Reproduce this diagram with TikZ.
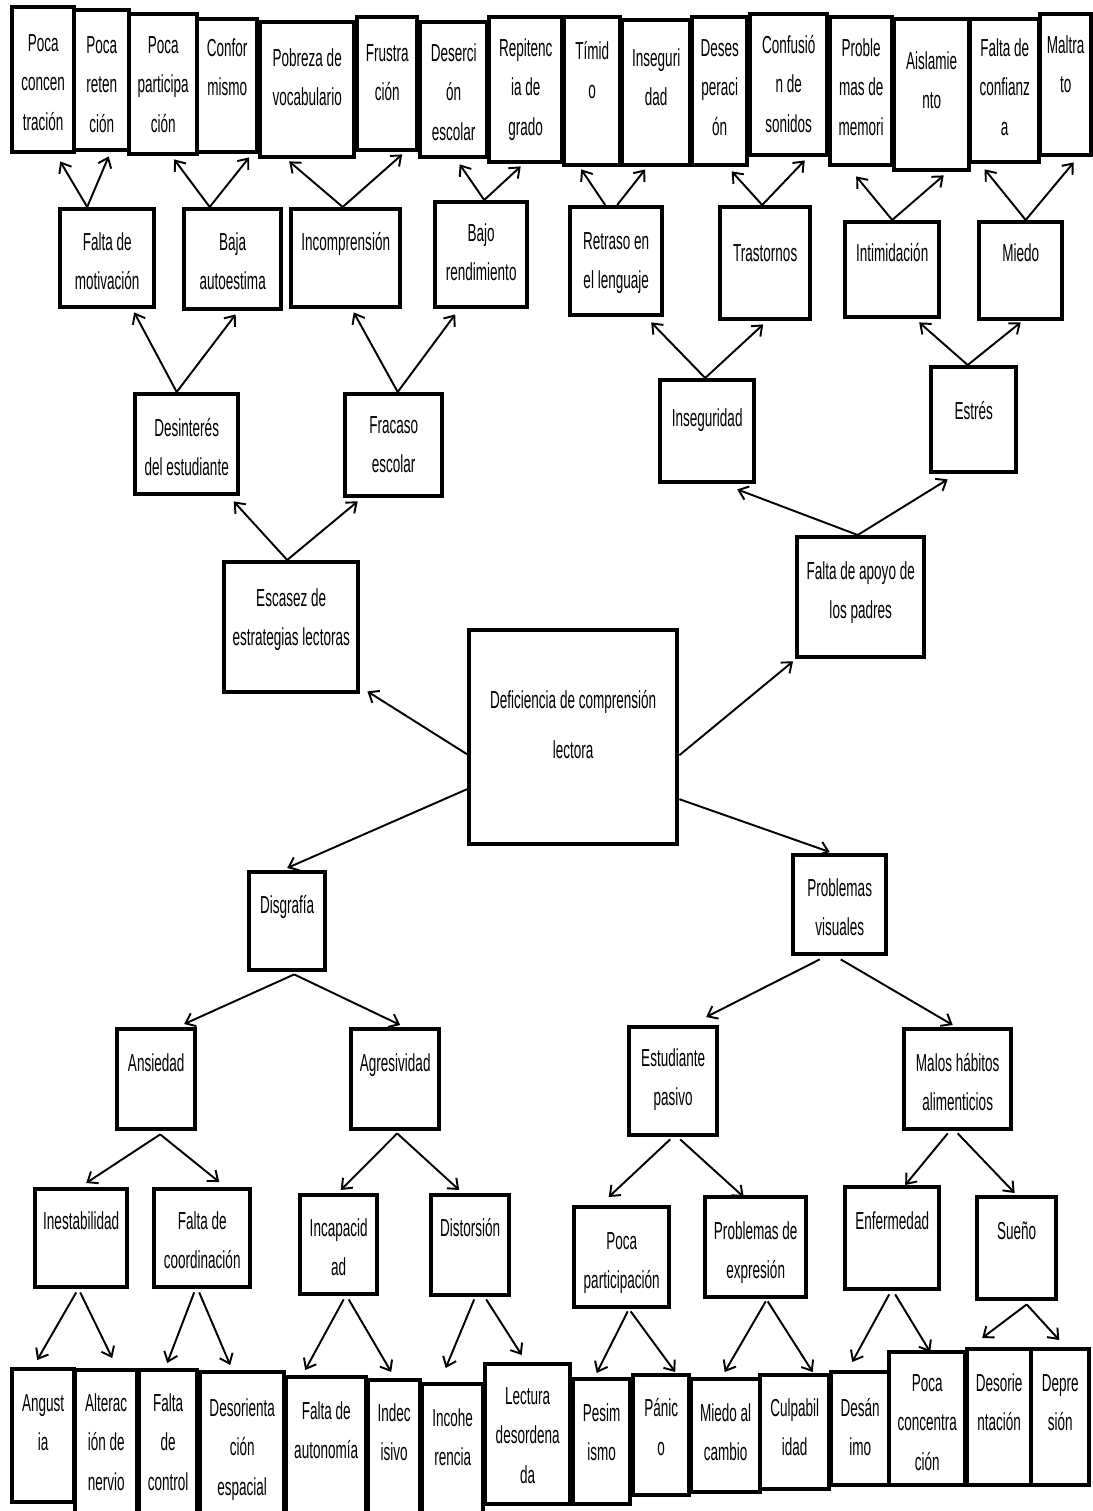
\documentclass[tikz,border=0pt]{standalone}
\usepackage{fontspec}
\setmainfont[FakeStretch=0.55]{Liberation Sans}
\usetikzlibrary{calc,arrows.meta}

\tikzset{
  box/.style={draw, line width=2.5pt, fill=white, inner sep=0pt, anchor=north west,
    align=flush center, font=\fontsize{14pt}{22.5pt}\selectfont},
  arr/.style={->, line width=1.1pt}
}

% box from (x1,y1) to (x2,y2), first baseline #1 below the top
\newcommand{\bx}[7][41]{%
  \pgfmathsetmacro{\bxw}{(#5-#3)*0.02}%
  \pgfmathsetmacro{\bxt}{#1*0.02}%
  \pgfmathsetmacro{\bxd}{(#6-#4-#1)*0.02}%
  \node[box, text width=\bxw cm, text height=\bxt cm, text depth=\bxd cm] (#2) at (#3,#4) {#7};%
}

\begin{document}
\begin{tikzpicture}[x=0.02cm, y=-0.02cm, >={Straight Barb[length=5pt,width=8pt]}]
    \useasboundingbox (0,0) rectangle (1092,1511);

    % Top row
    \bx[44]{pconc}{10}{5}{72}{150}{Poca\\concen\\tración}
    \bx[43]{pret}{72}{8}{127}{148}{Poca\\reten\\ción}
    \bx[39]{ppart}{127}{12}{195}{152}{Poca\\participa\\ción}
    \bx[37]{conform}{195}{17}{255}{150}{Confor\\mismo}
    \bx[44]{pobvoc}{258}{20}{352}{155}{Pobreza de\\vocabulario}
    \bx[44]{frust}{355}{15}{415}{148}{Frustra\\ción}
    \bx[39]{deser}{418}{20}{485}{155}{Deserci\\ón\\escolar}
    \bx[39]{repit}{487}{15}{560}{160}{Repitenc\\ia de\\grado}
    \bx[42]{timido}{562}{15}{618}{163}{Tímid\\o}
    \bx[46]{insegA}{620}{18}{688}{163}{Inseguri\\dad}
    \bx[39]{desesp}{690}{15}{745}{163}{Deses\\peraci\\ón}
    \bx[39]{confus}{748}{12}{825}{153}{Confusió\\n de\\sonidos}
    \bx[39]{probmem}{828}{15}{890}{163}{Proble\\mas de\\memori}
    \bx[50]{aislam}{892}{17}{967}{168}{Aislamie\\nto}
    \bx[37]{fconf}{968}{17}{1037}{160}{Falta de\\confianz\\a}
    \bx[39]{maltrato}{1038}{12}{1089}{153}{Maltra\\to}

    % Second row
    \bx{fmotiv}{58}{207}{152}{305}{Falta de\\motivación}
    \bx{bajaut}{182}{207}{279}{307}{Baja\\autoestima}
    \bx{incomp}{289}{207}{398}{305}{Incomprensión}
    \bx[39]{bajrend}{433}{200}{525}{305}{Bajo\\rendimiento}
    \bx[42]{retraso}{568}{205}{660}{313}{Retraso en\\el lenguaje}
    \bx[54]{trast}{718}{205}{808}{317}{Trastornos}
    \bx[39]{intimid}{843}{220}{937}{315}{Intimidación}
    \bx[39]{miedo}{977}{220}{1060}{317}{Miedo}

    % Third row
    \bx[42]{desint}{133}{392}{236}{492}{Desinterés\\del estudiante}
    \bx[39]{fracaso}{343}{392}{440}{494}{Fracaso\\escolar}
    \bx[46]{insegB}{658}{378}{752}{480}{Inseguridad}
    \bx[52]{estres}{929}{365}{1014}{470}{Estrés}

    % Causes next to the centre
    \bx[44]{escasez}{222}{560}{356}{690}{Escasez de\\estrategias lectoras}
    \bx[42]{fapoyo}{795}{535}{922}{655}{Falta de apoyo de\\los padres}
    \bx[78]{defic}{467}{628}{675}{842}{Deficiencia de comprensión\\[6pt]lectora}
    \bx{disgraf}{247}{870}{323}{968}{Disgrafía}
    \bx{probvis}{791}{853}{884}{952}{Problemas\\visuales}

    % Lower rows
    \bx[42]{ansied}{115}{1027}{193}{1127}{Ansiedad}
    \bx[42]{agresiv}{349}{1027}{437}{1127}{Agresividad}
    \bx[39]{estpas}{627}{1025}{715}{1133}{Estudiante\\pasivo}
    \bx[42]{malhab}{902}{1027}{1009}{1127}{Malos hábitos\\alimenticios}

    \bx[40]{inestab}{33}{1187}{125}{1285}{Inestabilidad}
    \bx[40]{fcoord}{152}{1187}{248}{1285}{Falta de\\coordinación}
    \bx[41]{incapac}{298}{1193}{375}{1292}{Incapacid\\ad}
    \bx[41]{distors}{429}{1193}{507}{1293}{Distorsión}
    \bx[42]{pocapart}{572}{1205}{667}{1305}{Poca\\participación}
    \bx[42]{probexp}{703}{1195}{804}{1295}{Problemas de\\expresión}
    \bx[42]{enferm}{843}{1185}{937}{1287}{Enfermedad}
    \bx[42]{sueno}{975}{1195}{1054}{1297}{Sueño}

    % Bottom row
    \bx[42]{angust}{10}{1367}{72}{1500}{Angust\\ia}
    \bx[41]{alterac}{73}{1368}{135}{1520}{Alterac\\ión de\\nervio}
    \bx[41]{fcontrol}{137}{1368}{195}{1520}{Falta\\de\\control}
    \bx[44]{desorEsp}{198}{1370}{282}{1520}{Desorienta\\ción\\espacial}
    \bx[42]{fautonom}{284}{1375}{364}{1520}{Falta de\\autonomía}
    \bx[41]{indecis}{366}{1378}{418}{1520}{Indec\\isivo}
    \bx[42]{incoher}{420}{1382}{481}{1520}{Incohe\\rencia}
    \bx[40]{lectdes}{483}{1362}{568}{1502}{Lectura\\desordena\\da}
    \bx[42]{pesim}{571}{1377}{628}{1502}{Pesim\\ismo}
    \bx[41]{panico}{631}{1373}{687}{1493}{Pánic\\o}
    \bx[42]{mcambio}{689}{1377}{758}{1490}{Miedo al\\cambio}
    \bx[41]{culpab}{758}{1373}{827}{1487}{Culpabil\\idad}
    \bx[44]{desanimo}{829}{1370}{887}{1483}{Desán\\imo}
    \bx[39]{pconcB}{887}{1350}{963}{1483}{Poca\\concentra\\ción}
    \bx[42]{desorient}{965}{1347}{1029}{1483}{Desorie\\ntación}
    \bx[42]{depres}{1029}{1347}{1087}{1483}{Depre\\sión}

    % Arrows up to the top row
    \draw[arr] ($(fmotiv.north)+(-20,0)$) -- ($(pconc.south)+(17,7)$);
    \draw[arr] ($(fmotiv.north)+(-20,0)$) -- ($(pret.south)+(7,4)$);
    \draw[arr] ($(bajaut.north)+(-23,0)$) -- ($(ppart.south)+(11,3)$);
    \draw[arr] ($(bajaut.north)+(-23,0)$) -- ($(conform.south)+(22,3)$);
    \draw[arr] ($(incomp.north)+(-3,0)$) -- ($(pobvoc.south)+(-18,2)$);
    \draw[arr] ($(incomp.north)+(-3,0)$) -- ($(frust.south)+(15,2)$);
    \draw[arr] ($(bajrend.north)+(3,0)$) -- ($(deser.south)+(6,5)$);
    \draw[arr] ($(bajrend.north)+(3,0)$) -- ($(repit.south)+(-5,2)$);
    \draw[arr] ($(retraso.north)+(-11,0)$) -- ($(timido.south)+(-11,2)$);
    \draw[arr] ($(retraso.north)+(1,0)$) -- ($(insegA.south)+(-11,2)$);
    \draw[arr] ($(trast.north)+(-3,0)$) -- ($(desesp.south)+(12,4)$);
    \draw[arr] ($(trast.north)+(-3,0)$) -- ($(confus.south)+(16,3)$);
    \draw[arr] (intimid.north) -- ($(probmem.south)+(-5,9)$);
    \draw[arr] (intimid.north) -- ($(aislam.south)+(12,3)$);
    \draw[arr] ($(miedo.north)+(5,0)$) -- ($(fconf.south)+(-20,5)$);
    \draw[arr] ($(miedo.north)+(5,0)$) -- ($(maltrato.south)+(8,5)$);

    % Arrows up to the second row
    \draw[arr] ($(desint.north)+(-10,0)$) -- ($(fmotiv.south)+(27,3)$);
    \draw[arr] ($(desint.north)+(-10,0)$) -- ($(bajaut.south)+(3,3)$);
    \draw[arr] ($(fracaso.north)+(4,0)$) -- ($(incomp.south)+(8,3)$);
    \draw[arr] ($(fracaso.north)+(4,0)$) -- ($(bajrend.south)+(-26,5)$);
    \draw[arr] ($(insegB.north)+(-2,0)$) -- ($(retraso.south)+(35,5)$);
    \draw[arr] ($(insegB.north)+(-2,0)$) -- ($(trast.south)+(-2,3)$);
    \draw[arr] ($(estres.north)+(-6,0)$) -- ($(intimid.south)+(27,3)$);
    \draw[arr] ($(estres.north)+(-6,0)$) -- ($(miedo.south)+(0,1)$);

    % Arrows up to the third row
    \draw[arr] ($(escasez.north)+(-4,0)$) -- ($(desint.south)+(47,5)$);
    \draw[arr] ($(escasez.north)+(-4,0)$) -- ($(fracaso.south)+(-36,3)$);
    \draw[arr] ($(fapoyo.north)+(-3,0)$) -- ($(insegB.south)+(30,5)$);
    \draw[arr] ($(fapoyo.north)+(-3,0)$) -- ($(estres.south)+(-26,5)$);

    % Arrows out of the centre
    \draw[arr] ($(defic.west)+(0,17)$) -- ($(escasez.south east)+(7,-3)$);
    \draw[arr] ($(defic.east)+(0,18)$) -- ($(fapoyo.south west)+(-2,2)$);
    \draw[arr] ($(defic.west)+(0,52)$) -- ($(disgraf.north)+(0,-2)$);
    \draw[arr] ($(defic.east)+(0,62)$) -- ($(probvis.north)+(-10,-1)$);

    % Arrows down
    \draw[arr] ($(disgraf.south)+(7,2)$) -- ($(ansied.north)+(28,-3)$);
    \draw[arr] ($(disgraf.south)+(7,2)$) -- ($(agresiv.north)+(5,-2)$);
    \draw[arr] ($(probvis.south)+(-20,3)$) -- ($(estpas.north)+(33,-8)$);
    \draw[arr] ($(probvis.south)+(1,3)$) -- ($(malhab.north)+(-5,-2)$);

    \draw[arr] ($(ansied.south)+(4,3)$) -- ($(inestab.north)+(5,-4)$);
    \draw[arr] ($(ansied.south)+(4,3)$) -- ($(fcoord.north)+(17,-5)$);
    \draw[arr] ($(agresiv.south)+(2,2)$) -- ($(incapac.north)+(2,-3)$);
    \draw[arr] ($(agresiv.south)+(2,2)$) -- ($(distors.north)+(-11,-3)$);
    \draw[arr] ($(estpas.south)+(-3,2)$) -- ($(pocapart.north)+(-13,-8)$);
    \draw[arr] ($(estpas.south)+(7,2)$) -- ($(probexp.north)+(-12,2)$);
    \draw[arr] ($(malhab.south)+(-10,2)$) -- ($(enferm.north)+(13,0)$);
    \draw[arr] ($(malhab.south)+(0,2)$) -- ($(sueno.north)+(-2,-2)$);

    \draw[arr] ($(inestab.south)+(-5,3)$) -- ($(angust.north)+(-6,-7)$);
    \draw[arr] ($(inestab.south)+(-1,3)$) -- ($(alterac.north)+(6,-10)$);
    \draw[arr] ($(fcoord.south)+(-8,3)$) -- ($(fcontrol.north)+(-1,-5)$);
    \draw[arr] ($(fcoord.south)+(-3,3)$) -- ($(desorEsp.north)+(-12,-5)$);
    \draw[arr] ($(incapac.south)+(5,3)$) -- ($(fautonom.north)+(-21,-5)$);
    \draw[arr] ($(incapac.south)+(10,3)$) -- ($(indecis.north)+(-3,-6)$);
    \draw[arr] ($(distors.south)+(4,2)$) -- ($(incoher.north)+(-7,-14)$);
    \draw[arr] ($(distors.south)+(16,2)$) -- ($(lectdes.north)+(-6,-7)$);
    \draw[arr] ($(pocapart.south)+(6,2)$) -- ($(pesim.north)+(-5,-4)$);
    \draw[arr] ($(pocapart.south)+(9,2)$) -- ($(panico.north)+(14,-1)$);
    \draw[arr] ($(probexp.south)+(10,2)$) -- ($(mcambio.north)+(-1,-5)$);
    \draw[arr] ($(probexp.south)+(12,2)$) -- ($(culpab.north)+(18,-1)$);
    \draw[arr] ($(enferm.south)+(-3,3)$) -- ($(desanimo.north)+(-8,-8)$);
    \draw[arr] ($(enferm.south)+(3,3)$) -- ($(pconcB.north)+(3,2)$);
    \draw[arr] ($(sueno.south)+(10,3)$) -- ($(desorient.north)+(-17,-9)$);
    \draw[arr] ($(sueno.south)+(10,3)$) -- ($(depres.north)+(-1,-7)$);
\end{tikzpicture}
\end{document}
